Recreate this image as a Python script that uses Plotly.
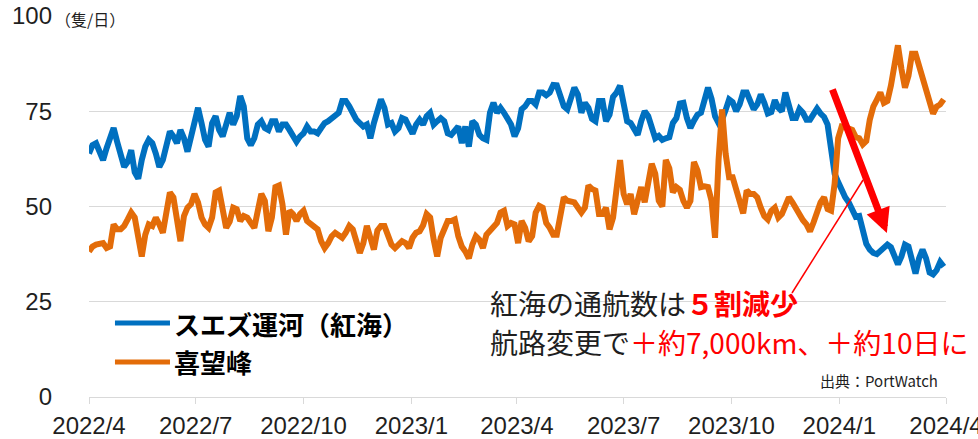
import plotly.graph_objects as go
import pandas as pd

# ---------------- data (every 3 days) ----------------
start_date = "2022-04-01"
step_days = 3

suez = [
    63.9, 66.1, 66.6, 64.8, 62.2, 65.3, 67.9, 70.6, 67.0, 63.0,
    60.4, 61.7, 64.8, 59.0, 57.3, 62.2, 65.7, 67.5, 66.6, 63.9,
    60.4, 62.2, 66.1, 69.7, 68.4, 66.6, 70.1, 67.9, 64.4, 68.8,
    72.8, 75.9, 71.9, 67.5, 65.7, 71.9, 73.7, 70.1, 68.4, 71.5,
    74.6,
    71.5, 73.7, 79.0, 76.3, 67.9, 66.1, 67.9, 71.5, 72.4, 70.6,
    70.1, 72.4, 72.4, 69.7, 71.5, 71.5, 70.1, 68.8, 67.0, 68.4,
    69.2, 71.0, 69.7, 69.7, 69.2, 70.6, 71.9, 72.4, 73.2, 73.7,
    74.6, 77.7, 77.7, 76.3, 74.1, 72.8, 71.9, 71.0, 71.5, 67.9,
    71.9,
    74.6, 78.1, 75.9, 71.5, 71.9, 69.7, 70.6, 73.2, 72.8, 70.6,
    69.1, 71.5, 72.8, 71.5, 73.7, 74.6, 71.5, 72.4, 73.2, 72.4,
    69.2, 68.8, 70.1, 71.0, 66.6, 71.0, 65.7, 72.4, 71.5, 68.8,
    67.9, 67.5, 74.6, 77.2, 74.6, 75.9, 74.6, 72.8, 71.5, 68.4,
    70.5,
    75.5, 76.3, 77.7, 77.7, 76.8, 79.9, 79.9, 79.2, 79.9, 81.9,
    81.8, 79.4, 76.3, 75.5, 78.1, 81.2, 79.4, 74.6, 77.2, 75.9,
    73.0, 72.4, 77.7, 77.7, 72.4, 74.1, 78.8, 79.9, 81.7, 76.3,
    72.4, 71.9, 70.6, 68.8, 72.4, 75.0, 73.7, 71.0, 67.9, 68.5,
    67.5,
    67.9, 68.2, 71.9, 73.2, 77.0, 77.2, 73.2, 70.6, 72.5, 74.1,
    74.6, 78.5, 81.2, 78.3, 73.7, 71.9, 72.8, 75.3, 78.1, 77.4,
    75.0, 76.8, 79.9, 79.9, 77.7, 75.5, 76.8, 79.4, 77.2, 74.4,
    74.8, 77.9, 75.9, 75.0, 79.9, 76.8, 73.2, 73.2, 75.6, 74.6,
    72.8,
    72.8, 74.6, 75.7, 74.4, 73.5, 71.5, 65.3, 58.6, 56.4, 54.2,
    52.4, 51.1, 48.9, 47.3, 47.5, 44.0, 40.2, 38.7, 37.8, 37.5,
    38.2, 39.1, 40.0, 39.3, 37.2, 34.8, 36.9, 40.0, 39.5, 35.6,
    32.4, 36.4, 38.7, 36.4, 32.7, 32.2, 33.3, 35.4, 34.2,
]

cape = [
    38.2, 39.5, 40.0, 40.4, 40.4, 39.1, 39.5, 45.3, 44.0, 44.0,
    44.9, 46.6, 48.4, 47.1, 40.9, 36.9, 42.6, 45.3, 44.9, 47.1,
    45.3, 43.1, 48.4, 53.7, 52.4, 46.2, 40.9, 47.5, 49.7, 50.6,
    53.3, 51.1, 47.1, 45.3, 44.4, 47.1, 53.7, 54.2, 48.0, 44.4,
    46.0,
    49.7, 49.3, 46.2, 47.5, 47.1, 45.7, 44.4, 48.9, 53.3, 51.5,
    43.5, 47.1, 55.1, 55.5, 50.6, 42.6, 48.9, 48.0, 46.2, 48.0,
    48.9, 46.2, 45.3, 44.4, 44.0, 40.9, 39.1, 40.4, 42.2, 43.1,
    42.6, 41.8, 43.1, 44.9, 44.0, 40.9, 37.8, 40.4, 44.9, 41.8,
    38.7,
    43.7, 44.9, 44.9, 42.2, 40.0, 39.1, 40.0, 40.9, 40.4, 39.1,
    41.8, 43.1, 43.5, 45.1, 48.0, 47.1, 41.3, 36.9, 41.8, 44.0,
    46.2, 46.2, 46.6, 42.2, 39.5, 38.2, 36.4, 40.0, 42.2, 41.3,
    39.1, 42.6, 43.5, 44.9, 45.7, 48.4, 48.9, 44.9, 45.7, 45.3,
    40.4,
    46.2, 44.4, 40.9, 42.2, 48.4, 50.2, 49.7, 45.7, 44.4, 42.6,
    42.6, 48.0, 52.4, 51.5, 51.1, 51.1, 49.7, 48.4, 49.7, 55.5,
    54.6, 54.2, 48.0, 48.0, 49.7, 44.0, 47.1, 55.1, 62.2, 53.3,
    50.6, 53.3, 48.0, 51.5, 55.1, 51.1, 56.4, 61.2, 58.6, 51.5,
    50.0,
    62.2, 60.0, 53.7, 55.1, 54.4, 51.5, 49.7, 51.5, 61.7, 59.5,
    55.1, 55.3, 55.1, 51.5, 41.8, 62.2, 75.5, 63.9, 57.7, 57.7,
    54.2, 50.6, 48.2, 54.2, 53.3, 53.3, 52.4, 49.7, 47.5, 46.6,
    48.9, 49.7, 47.1, 48.0, 49.9, 52.4, 51.1, 49.3, 47.5, 46.4,
    45.3,
    43.5, 45.8, 48.6, 51.1, 52.4, 49.3, 48.9, 56.0, 67.9, 71.0,
    70.8, 70.3, 70.1, 68.2, 67.9, 66.3, 67.2, 72.8, 76.2, 78.0,
    79.9, 77.2, 77.7, 81.7, 87.0, 92.3, 86.1, 81.2, 84.3, 90.1,
    90.1, 87.0, 84.8, 80.8, 78.1, 74.4, 76.2, 76.8, 78.1,
]

dates = pd.date_range(start_date, periods=len(suez), freq=f"{step_days}D")

series_names = ["スエズ運河（紅海）", "喜望峰"]
x_tick_vals = ["2022-04-01", "2022-07-01", "2022-10-01", "2023-01-01", "2023-04-01",
               "2023-07-01", "2023-10-01", "2024-01-01", "2024-04-01"]
x_tick_text = ["2022/4", "2022/7", "2022/10", "2023/1", "2023/4",
               "2023/7", "2023/10", "2024/1", "2024/4"]
y_tick_vals = [0, 25, 50, 75, 100]
y_tick_text = ["0", "25", "50", "75", "100"]

# ---------------- styles ----------------
BLUE = "#0070C0"
ORANGE = "#E36C09"
RED = "#FF0000"
TXT = "#1f1f1f"
GRID = "#D9D9D9"
CJK = "Noto Sans CJK JP"
LAT = "Liberation Sans"

fig = go.Figure()
fig.add_trace(go.Scatter(x=dates, y=suez, mode="lines", name=series_names[0],
                         line=dict(color=BLUE, width=6), showlegend=False))
fig.add_trace(go.Scatter(x=dates, y=cape, mode="lines", name=series_names[1],
                         line=dict(color=ORANGE, width=6), showlegend=False))

fig.update_layout(
    width=978, height=439,
    margin=dict(l=89, r=32, t=16, b=42, autoexpand=False),
    paper_bgcolor="white", plot_bgcolor="white",
    font=dict(family=LAT, color=TXT),
)
fig.update_xaxes(
    range=["2022-04-01", "2024-04-01"],
    tickvals=x_tick_vals, ticktext=x_tick_text,
    ticks="outside", ticklen=6, tickcolor=GRID, tickwidth=1,
    showline=True, linecolor=GRID, linewidth=1,
    showgrid=False, zeroline=False, automargin=False,
    ticklabeloverflow="allow",
    tickfont=dict(family=LAT, size=24, color=TXT),
    ticklabelstandoff=1,
)
fig.update_yaxes(
    range=[0, 100],
    tickvals=y_tick_vals, ticktext=y_tick_text,
    ticks="", showline=False, automargin=False,
    showgrid=True, gridcolor=GRID, gridwidth=1, zeroline=False,
    tickfont=dict(family=LAT, size=24, color=TXT),
    ticklabelstandoff=36,
)

# unit label
fig.add_annotation(xref="paper", yref="paper", x=-0.0408, y=0.992,
                   xanchor="left", yanchor="middle", showarrow=False,
                   text="（隻/日）", bgcolor="white", borderpad=0,
                   font=dict(family=CJK, size=16, color=TXT))

# manual legend
legend_rows = [(0.194, BLUE, series_names[0]), (0.092, ORANGE, series_names[1])]
for ypos, col, name in legend_rows:
    fig.add_shape(type="line", xref="paper", yref="paper",
                  x0=0.0303, x1=0.0945, y0=ypos, y1=ypos,
                  line=dict(color=col, width=5))
    fig.add_annotation(xref="paper", yref="paper", x=0.097, y=ypos,
                       xanchor="left", yanchor="middle", showarrow=False,
                       text=f"<b>{name}</b>",
                       font=dict(family=CJK, size=26, color="#000000"))

# commentary text
fig.add_annotation(xref="paper", yref="paper", x=0.4656, y=0.246,
                   xanchor="left", yanchor="middle", showarrow=False,
                   text=f"紅海の通航数は<span style='color:{RED}'><b>５割減少</b></span>",
                   font=dict(family=CJK, size=28, color=TXT))
fig.add_annotation(xref="paper", yref="paper", x=0.4656, y=0.144,
                   xanchor="left", yanchor="middle", showarrow=False,
                   text=f"航路変更で<span style='color:{RED}'>＋約7,000km、＋約10日に</span>",
                   font=dict(family=CJK, size=28, color=TXT))
fig.add_annotation(xref="paper", yref="paper", x=0.993, y=0.0446,
                   xanchor="right", yanchor="middle", showarrow=False,
                   text="出典：PortWatch",
                   font=dict(family=CJK, size=15, color=TXT))

# thin leader line and big arrow
fig.add_shape(type="line", xref="paper", yref="paper",
              x0=0.8203, y0=0.273, x1=0.9032, y1=0.5696,
              line=dict(color=RED, width=1.5))
fig.add_annotation(xref="paper", yref="paper", x=0.931, y=0.4304,
                   ax=-55, ay=-145, text="", showarrow=True,
                   arrowhead=2, arrowsize=0.7, arrowwidth=7, arrowcolor=RED)

fig.write_html("out.html", config={"displayModeBar": False},
               post_script="document.body.style.margin='0';")
